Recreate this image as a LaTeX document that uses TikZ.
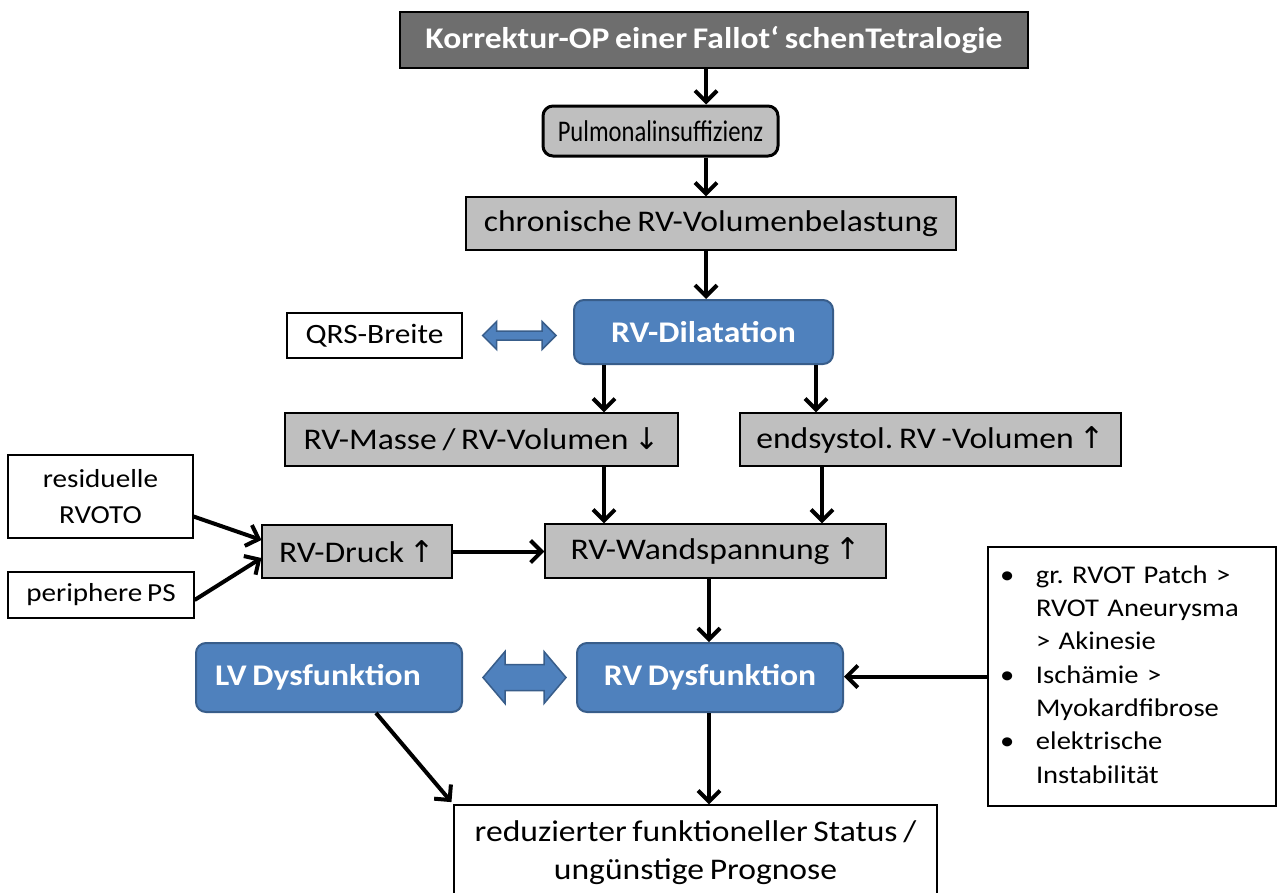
\documentclass[tikz,border=0pt]{standalone}
\usepackage{fontspec}
\setmainfont{Carlito}[FakeStretch=1.12, WordSpace=0.75]
\newfontfamily\condfont{Carlito}[FakeStretch=0.82]
\newfontfamily\symfont{DejaVu Sans}
\usetikzlibrary{arrows.meta,calc}
\definecolor{boxgray}{HTML}{BFBFBF}
\definecolor{topgray}{HTML}{6E6E6E}
\definecolor{bluefill}{HTML}{4F81BD}
\definecolor{blueline}{HTML}{385D8A}
\newcommand\up{{\symfont\char"2191}}
\newcommand\dn{{\symfont\char"2193}}
\newcommand\dblArrowX[5]{%
  \path[darrow] let \p1=#1, \p2=#2 in
    (\x1,\y1) -- (\x1+#5,\y1+#4) -- (\x1+#5,\y1+#3) -- (\x2-#5,\y1+#3)
    -- (\x2-#5,\y1+#4) -- (\x2,\y1) -- (\x2-#5,\y1-#4) -- (\x2-#5,\y1-#3)
    -- (\x1+#5,\y1-#3) -- (\x1+#5,\y1-#4) -- cycle;}
\tikzset{
  base/.style={inner sep=0pt, align=center, font=\fontsize{30}{38}\selectfont},
  graybox/.style={base, draw=black, line width=1.2pt, fill=boxgray},
  whitebox/.style={base, draw=black, line width=1.2pt, fill=white},
  bluebox/.style={base, draw=blueline, line width=2pt, fill=bluefill, rounded corners=10pt,
    text=white, font=\fontsize{30}{38}\selectfont\bfseries},
  arr/.style={line width=4pt, -{Straight Barb[length=11pt,width=22pt]}},
  darrow/.style={draw=blueline, line width=1.5pt, fill=bluefill},
}
\frenchspacing
\begin{document}
\begin{tikzpicture}[x=1pt,y=-1pt]
\useasboundingbox (0,0) rectangle (1279,892);
\clip (0,0) rectangle (1279,892);
\fill[white] (0,0) rectangle (1279,892);

\node[base, draw=black, line width=1.2pt, fill=topgray, text=white,
  font=\fontsize{30}{38}\selectfont\bfseries, minimum width=628pt, minimum height=56pt]
  (top) at (714,40) {Korrektur-OP einer Fallot‘ schenTetralogie};
\node[graybox, line width=3pt, rounded corners=10pt, minimum width=235pt, minimum height=50pt,
  font=\fontsize{30}{38}\condfont]
  (pulm) at (660.5,131) {Pulmonalinsuffizienz};
\node[graybox, minimum width=490pt, minimum height=53pt]
  (chron) at (711,223.5) {chronische RV-Volumenbelastung};
\node[bluebox, minimum width=259pt, minimum height=64pt]
  (dil) at (703.5,332) {RV-Dilatation};
\node[whitebox, font=\fontsize{28}{34}\selectfont, minimum width=175pt, minimum height=45pt]
  (qrs) at (374.5,335.5) {QRS-Breite};
\node[graybox, minimum width=393pt, minimum height=53pt]
  (masse) at (481.5,439.5) {RV-Masse / RV-Volumen \dn};
\node[graybox, minimum width=381pt, minimum height=53pt]
  (endsys) at (930.5,439.5) {endsystol. RV -Volumen \up};
\node[graybox, minimum width=190pt, minimum height=53pt]
  (druck) at (357,551.5) {RV-Druck \up};
\node[graybox, minimum width=341pt, minimum height=54pt]
  (wand) at (715.5,551) {RV-Wandspannung \up};
\node[whitebox, font=\fontsize{26}{36}\selectfont, minimum width=185pt, minimum height=83pt]
  (resid) at (100.5,496.5) {residuelle\\RVOTO};
\node[whitebox, font=\fontsize{26}{32}\selectfont, minimum width=186pt, minimum height=46pt]
  (peri) at (101,595) {periphere PS};
\node[bluebox, minimum width=266pt, minimum height=69pt]
  (rvdys) at (710,677.5) {RV Dysfunktion};
\node[bluebox, minimum width=266pt, minimum height=69pt]
  (lvdys) at (329,677.5) {\hspace*{-22pt}LV Dysfunktion};
\node[whitebox, font=\fontsize{25.5}{33.3}\selectfont, minimum width=288pt, minimum height=259pt,
  text width=288pt, align=left]
  (bullet) at (1132,676.5) {%
  \begin{tabular}{@{\hspace{12pt}}p{36pt}@{}l@{}}
  •& gr. RVOT Patch >\\
   & RVOT Aneurysma\\
   & > Akinesie\\
  •& Ischämie >\\
   & Myokardfibrose\\
  •& elektrische\\
   & Instabilität
  \end{tabular}};
\node[whitebox, minimum width=483pt, minimum height=96pt, font=\fontsize{30}{38}\selectfont]
  (final) at (695.5,853) {reduzierter funktioneller Status /\\ungünstige Prognose};

% arrow axes
\coordinate (a1) at (706,0);
\coordinate (a2) at (604,0);
\coordinate (a3) at (816,0);
\coordinate (a4) at (822,0);
\coordinate (a5) at (709,0);

\draw[arr] (top.south -| a1) -- (pulm.north -| a1);
\draw[arr] (pulm.south -| a1) -- (chron.north -| a1);
\draw[arr] (chron.south -| a1) -- (dil.north -| a1);
\draw[arr] (dil.south -| a2) -- (masse.north -| a2);
\draw[arr] (dil.south -| a3) -- (endsys.north -| a3);
\draw[arr] (masse.south -| a2) -- (wand.north -| a2);
\draw[arr] (endsys.south -| a4) -- (wand.north -| a4);
\draw[arr] (druck.east) -- (druck.east -| wand.west);
\draw[arr] ([yshift=-20pt]resid.east) -- ([yshift=11.5pt]druck.west);
\draw[arr] ([yshift=-5pt]peri.east) -- ([yshift=-6.5pt]druck.west);
\draw[arr] (wand.south -| a5) -- (rvdys.north -| a5);
\draw[arr] (rvdys.south -| a5) -- (final.north -| a5);
\draw[arr] (bullet.west) -- (bullet.west -| rvdys.east);
\draw[arr, shorten >=3pt] ([xshift=47pt]lvdys.south) -- (final.north west);

\dblArrowX{([xshift=20pt]qrs.east)}{([xshift=-17pt]dil.west |- qrs.east)}{4.5}{14}{14}
\dblArrowX{([xshift=20pt]lvdys.east)}{([xshift=-10pt]rvdys.west)}{13}{26}{22}
\end{tikzpicture}
\end{document}
